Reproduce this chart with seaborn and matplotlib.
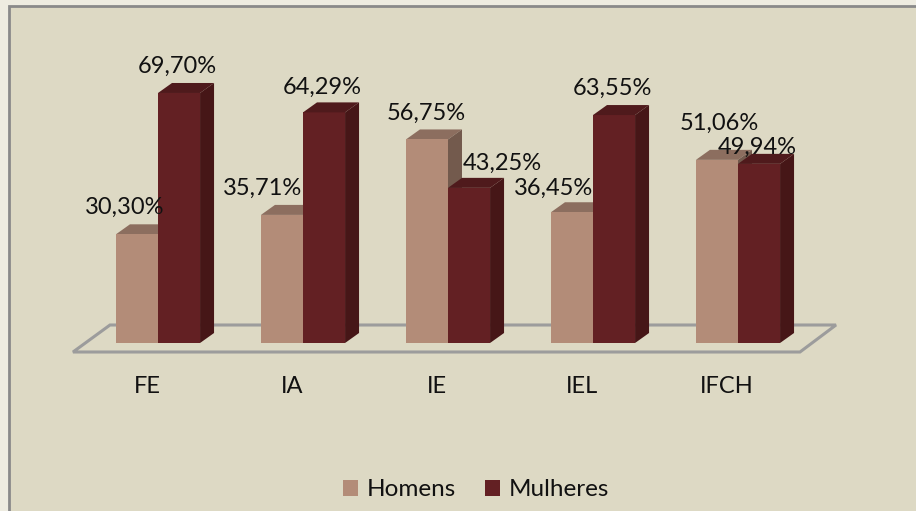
import matplotlib
matplotlib.use("Agg")
import matplotlib.pyplot as plt
import matplotlib.transforms as mtransforms
from matplotlib.patches import Polygon, Rectangle, Patch
import seaborn as sns
import pandas as pd

# ---- data ----
categories = ["FE", "IA", "IE", "IEL", "IFCH"]
series_names = ["Homens", "Mulheres"]
homens = [30.30, 35.71, 56.75, 36.45, 51.06]
mulheres = [69.70, 64.29, 43.25, 63.55, 49.94]
label_texts_h = ["30,30%", "35,71%", "56,75%", "36,45%", "51,06%"]
label_texts_m = ["69,70%", "64,29%", "43,25%", "63,55%", "49,94%"]

# ---- styles ----
BG_OUT = "#eeece1"
BG = "#ddd9c4"
FRONT = {"Homens": "#b38c78", "Mulheres": "#632023"}
TOP = {"Homens": "#8c6e5f", "Mulheres": "#4f1a1c"}
SIDE = {"Homens": "#735a4d", "Mulheres": "#461617"}
FONT = ["Lato", "DejaVu Sans"]
FS = 17
FS_LEG = 17.5

sns.set_theme(style="white")
plt.rcParams["font.family"] = FONT

W, H = 916, 511
fig = plt.figure(figsize=(W / 100, H / 100), dpi=100, facecolor=BG_OUT)
# chart area background + border
fig.patches.append(Rectangle((9 / W, -0.05), 1.1, 1 - 6 / H + 0.05,
                             transform=fig.transFigure, facecolor=BG,
                             edgecolor="#8a8a8a", linewidth=2, zorder=-10))

# axes: y=0 at pixel 343 from top, 3.587 px per %, x groups 145 px apart
px_per = 3.587
ymax = 80
ax_bottom = (H - 343) / H
ax_height = ymax * px_per / H
x0, x1 = -0.6, 4.6
ax_left = (158 + x0 * 145) / W
ax_width = (x1 - x0) * 145 / W
ax = fig.add_axes([ax_left, ax_bottom, ax_width, ax_height])
ax.patch.set_visible(False)

df = pd.DataFrame({
    "cat": categories * 2,
    "serie": [series_names[0]] * 5 + [series_names[1]] * 5,
    "val": homens + mulheres,
})
sns.barplot(data=df, x="cat", y="val", hue="serie", order=categories,
            hue_order=series_names, palette=FRONT, width=0.58, saturation=1,
            linewidth=0, ax=ax, legend=False)
ax.set_xlim(x0, x1)
ax.set_ylim(0, ymax)

dx = 14 / 145
dy = 10 / px_per

bars = list(ax.patches)

# floor
fy_front, fy_back = (343 - 352) / px_per, (343 - 325) / px_per
floor = Polygon([((73 - 158) / 145, fy_front), ((800 - 158) / 145, fy_front),
                 ((836 - 158) / 145, fy_back), ((110 - 158) / 145, fy_back)],
                closed=True, facecolor=BG, edgecolor="#9c9c9c", linewidth=2.2,
                clip_on=False, zorder=0.2)
ax.add_patch(floor)

labels = label_texts_h + label_texts_m
# label offsets in pixels (dx, dy up) relative to front-top centre
offs = [(-12, 27), (-19, 27), (-1, 26), (-18, 24), (2, 37),
        (-2, 27), (-2, 25), (33, 25), (-2, 27), (-2, 17)]
for i, bar in enumerate(bars[:10]):
    serie = series_names[0] if i < 5 else series_names[1]
    xl = bar.get_x()
    w = bar.get_width()
    h = bar.get_height()
    zo = 0.5 if serie == "Homens" else 1.1
    bar.set_zorder(1)
    bar.set_clip_on(False)
    top = Polygon([(xl, h), (xl + w, h), (xl + w + dx, h + dy), (xl + dx, h + dy)],
                  closed=True, facecolor=TOP[serie], edgecolor="none",
                  zorder=zo, clip_on=False)
    side = Polygon([(xl + w, 0), (xl + w + dx, dy), (xl + w + dx, h + dy), (xl + w, h)],
                   closed=True, facecolor=SIDE[serie], edgecolor="none",
                   zorder=zo, clip_on=False)
    ax.add_patch(top)
    ax.add_patch(side)
    ox, oy = offs[i]
    ax.annotate(labels[i], (xl + w / 2, h), xytext=(ox * 0.72, oy * 0.72),
                textcoords="offset points", ha="center", va="center",
                fontsize=FS, color="#111111", zorder=5, annotation_clip=False)

# axes cosmetics
for s in ax.spines.values():
    s.set_visible(False)
ax.set_yticks([])
ax.set_xlabel("")
ax.set_ylabel("")
ax.tick_params(axis="x", length=0, pad=24, labelsize=FS, labelcolor="#111111")
shift = mtransforms.ScaledTranslation(-11 / 100, 0, fig.dpi_scale_trans)
for t in ax.get_xticklabels():
    t.set_transform(t.get_transform() + shift)

handles = [Patch(facecolor=FRONT[s], edgecolor="none", label=s) for s in series_names]
fig.legend(handles=handles, loc="center", bbox_to_anchor=(476 / W, 1 - 490 / H),
           ncol=2, frameon=False, fontsize=FS_LEG, handlelength=0.62, handleheight=0.62,
           handletextpad=0.35, columnspacing=1.2, labelcolor="#111111")

fig.savefig("out.png", dpi=100, facecolor=BG_OUT)
